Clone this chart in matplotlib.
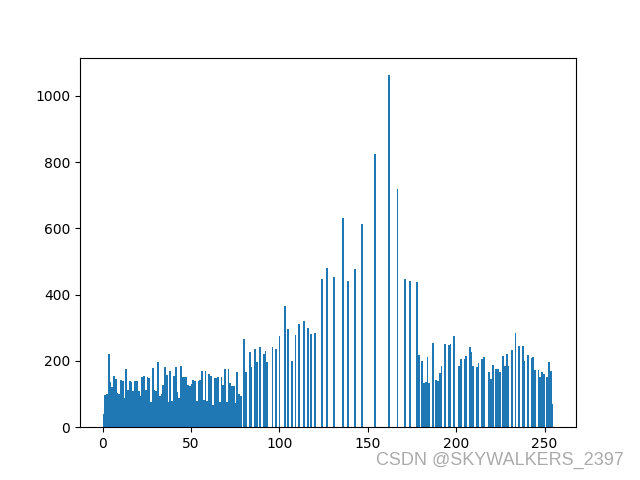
import numpy as np
import matplotlib
matplotlib.use('Agg')
import matplotlib.pyplot as plt

levels = np.arange(256)
counts = [
    40, 98, 101, 221, 135, 121, 155, 146, 103, 100, 143, 140, 88, 176, 113, 138,      # 0-15
    135, 108, 138, 140, 108, 95, 150, 155, 113, 150, 148, 77, 179, 113, 108, 197,     # 16-31
    93, 100, 128, 183, 156, 77, 171, 80, 155, 183, 105, 88, 185, 150, 150, 150,       # 32-47
    128, 125, 131, 143, 140, 80, 140, 143, 170, 82, 170, 80, 161, 155, 67, 148,       # 48-63
    148, 150, 77, 150, 128, 176, 77, 176, 133, 123, 123, 73, 167, 101, 95, 0,         # 64-79
    267, 167, 0, 228, 182, 0, 237, 197, 0, 243, 0, 221, 230, 197, 0, 0,               # 80-95
    243, 0, 237, 0, 276, 0, 0, 366, 0, 297, 0, 200, 0, 279, 0, 312,                   # 96-111
    0, 0, 321, 0, 300, 0, 282, 0, 285, 0, 0, 0, 448, 0, 0, 481,                       # 112-127
    0, 0, 0, 454, 0, 0, 0, 0, 632, 0, 0, 442, 0, 0, 0, 478,                           # 128-143
    0, 0, 0, 614, 0, 0, 0, 0, 0, 0, 823, 0, 0, 0, 0, 0,                               # 144-159
    0, 0, 1062, 0, 0, 0, 0, 720, 0, 0, 0, 448, 0, 0, 442, 0,                          # 160-175
    0, 0, 439, 218, 0, 200, 134, 137, 211, 134, 0, 255, 0, 143, 140, 164,             # 176-191
    185, 0, 252, 0, 249, 252, 0, 276, 0, 0, 185, 206, 0, 206, 215, 0,                 # 192-207
    243, 228, 185, 0, 182, 194, 0, 206, 212, 0, 0, 167, 146, 188, 0, 176,             # 208-223
    176, 167, 0, 215, 185, 221, 185, 0, 233, 0, 285, 0, 246, 0, 246, 200,             # 224-239
    0, 218, 0, 209, 212, 173, 0, 173, 152, 167, 161, 0, 152, 197, 170, 70,            # 240-255
]

fig, ax = plt.subplots(figsize=(6.4, 4.8), dpi=100)
ax.hist(levels, bins=256, weights=counts)

fig.text(0.974, 0.041, 'CSDN @SKYWALKERS_2397', ha='right', va='center',
         fontsize=13, color='#ababab', family=['Liberation Sans', 'DejaVu Sans'])

plt.savefig('out.png')
